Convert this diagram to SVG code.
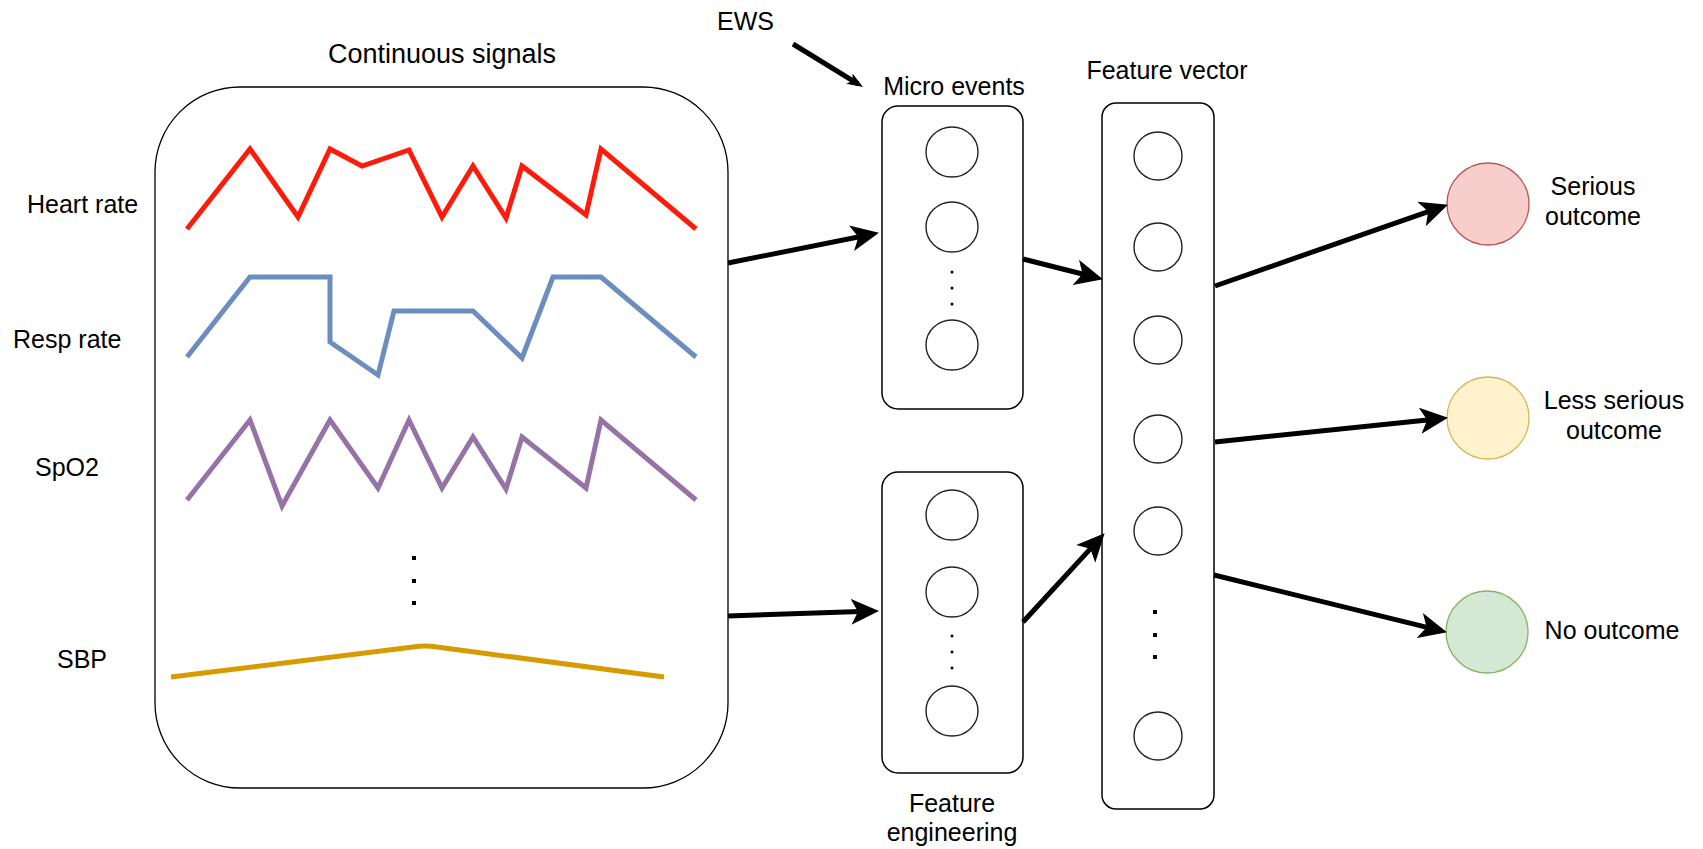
<svg xmlns="http://www.w3.org/2000/svg" width="1703" height="849" viewBox="0 0 1703 849">
<style>
text{font-family:"Liberation Sans",Arial,sans-serif;font-size:25px;fill:#000}
.box{fill:#fff;stroke:#000;stroke-width:1.5}
.nd{fill:#fff;stroke:#222;stroke-width:1.4}
.sig{fill:none;stroke-width:5;stroke-linejoin:miter}
.conn{fill:none;stroke:#000;stroke-width:5}
.dot{fill:#000}
</style>
<defs>
<marker id="arr" markerUnits="userSpaceOnUse" viewBox="0 -14 28 28" markerWidth="28" markerHeight="28" refX="17" refY="0" orient="auto">
<path d="M0,-13 L28,0 L0,13 L7,0 Z" fill="#000"/>
</marker>
<marker id="arrs" markerUnits="userSpaceOnUse" viewBox="0 -7 16 14" markerWidth="16" markerHeight="14" refX="10" refY="0" orient="auto">
<path d="M0,-6 L16,0 L0,6 L4,0 Z" fill="#000"/>
</marker>
</defs>

<g id="signals">
<rect class="box" x="155" y="87" width="573" height="701" rx="85" ry="85" style="stroke-width:1.3"/>
<text x="442" y="63" text-anchor="middle" style="font-size:27px">Continuous signals</text>
<text x="27" y="213">Heart rate</text>
<text x="13" y="348">Resp rate</text>
<text x="35" y="476">SpO2</text>
<text x="57" y="668">SBP</text>
<polyline class="sig" stroke="#ff1a0a" points="187,229 250,149 298,217 330,149 362,166 409,150 442,217 473,166 506,218 522,166 586,215 601,149 696,229"/>
<polyline class="sig" stroke="#6c8ebf" points="187,357 250,277 330,277 330,342 378,375 394,311 473,311 522,358 553,277 601,277 696,357"/>
<polyline class="sig" stroke="#9673a6" points="187,500 250,420 282,506 330,420 378,488 409,420 442,488 473,437 506,489 522,437 586,488 601,420 696,500"/>
<path class="sig" stroke="#d79b00" stroke-width="6" d="M171,677 L413,647 Q425,645 437,647 L664,677"/>
<rect class="dot" x="412" y="556" width="4" height="4"/>
<rect class="dot" x="412" y="579" width="4" height="4"/>
<rect class="dot" x="412" y="601" width="4" height="4"/>
</g>

<g id="ews">
<text x="717" y="30">EWS</text>
</g>

<g id="micro-events">
<text x="954" y="95" text-anchor="middle">Micro events</text>
<rect class="box" x="882" y="106" width="141" height="303" rx="16" ry="16"/>
<ellipse class="nd" cx="952" cy="152" rx="26" ry="25"/>
<ellipse class="nd" cx="952" cy="227" rx="26" ry="25"/>
<ellipse class="nd" cx="952" cy="345" rx="26" ry="25"/>
<circle class="dot" cx="952" cy="272" r="1.5"/>
<circle class="dot" cx="952" cy="288" r="1.5"/>
<circle class="dot" cx="952" cy="304" r="1.5"/>
</g>

<g id="feature-engineering">
<rect class="box" x="882" y="472" width="141" height="301" rx="16" ry="16"/>
<ellipse class="nd" cx="952" cy="515" rx="26" ry="25"/>
<ellipse class="nd" cx="952" cy="592" rx="26" ry="25"/>
<ellipse class="nd" cx="952" cy="711" rx="26" ry="25"/>
<circle class="dot" cx="952" cy="636" r="1.5"/>
<circle class="dot" cx="952" cy="652" r="1.5"/>
<circle class="dot" cx="952" cy="668" r="1.5"/>
<text x="952" y="812" text-anchor="middle">Feature</text>
<text x="952" y="841" text-anchor="middle">engineering</text>
</g>

<g id="feature-vector">
<text x="1167" y="79" text-anchor="middle">Feature vector</text>
<rect class="box" x="1102" y="103" width="112" height="706" rx="14" ry="14"/>
<ellipse class="nd" cx="1158" cy="156" rx="24" ry="24"/>
<ellipse class="nd" cx="1158" cy="247" rx="24" ry="24"/>
<ellipse class="nd" cx="1158" cy="340" rx="24" ry="24"/>
<ellipse class="nd" cx="1158" cy="439" rx="24" ry="24"/>
<ellipse class="nd" cx="1158" cy="531" rx="24" ry="24"/>
<ellipse class="nd" cx="1158" cy="736" rx="24" ry="24"/>
<rect class="dot" x="1153" y="610" width="4" height="4"/>
<rect class="dot" x="1153" y="633" width="4" height="4"/>
<rect class="dot" x="1153" y="655" width="4" height="4"/>
</g>

<g id="serious">
<circle cx="1488" cy="204" r="41" fill="#f8cecc" stroke="#b85450" stroke-width="1.3"/>
<text x="1593" y="195" text-anchor="middle">Serious</text>
<text x="1593" y="225" text-anchor="middle">outcome</text>
</g>
<g id="less-serious">
<circle cx="1488" cy="418" r="41" fill="#fff2cc" stroke="#d6b656" stroke-width="1.3"/>
<text x="1614" y="409" text-anchor="middle">Less serious</text>
<text x="1614" y="439" text-anchor="middle">outcome</text>
</g>
<g id="no-outcome">
<circle cx="1487" cy="632" r="41" fill="#d5e8d4" stroke="#82b366" stroke-width="1.3"/>
<text x="1612" y="639" text-anchor="middle">No outcome</text>
</g>

<g id="connectors">
<line class="conn" stroke-width="2.2" x1="793" y1="44" x2="857.9" y2="83.9" marker-end="url(#arrs)"/>
<line class="conn" x1="728" y1="263" x2="868.2" y2="235" marker-end="url(#arr)"/>
<line class="conn" x1="728" y1="616" x2="868" y2="611.3" marker-end="url(#arr)"/>
<line class="conn" x1="1023" y1="259" x2="1092.3" y2="276.5" marker-end="url(#arr)"/>
<line class="conn" x1="1023" y1="622" x2="1097.2" y2="541.4" marker-end="url(#arr)"/>
<line class="conn" x1="1215" y1="286" x2="1437.6" y2="208.3" marker-end="url(#arr)"/>
<line class="conn" x1="1215" y1="442" x2="1437.1" y2="419" marker-end="url(#arr)"/>
<line class="conn" x1="1214" y1="575" x2="1436.3" y2="629.6" marker-end="url(#arr)"/>
</g>
</svg>
